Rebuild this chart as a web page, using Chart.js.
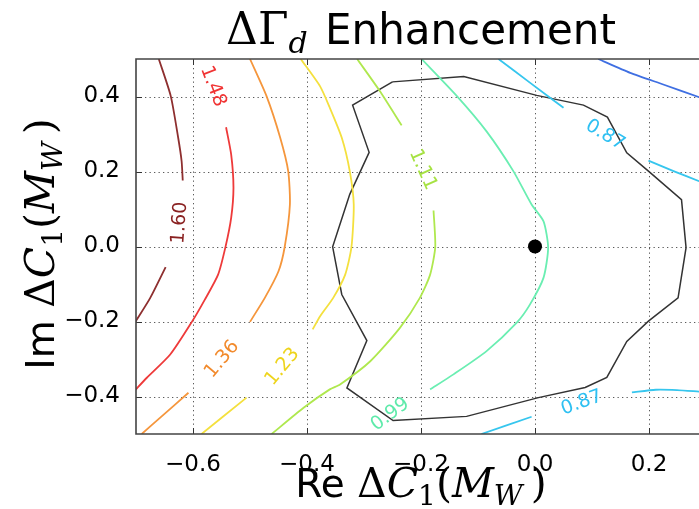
<!DOCTYPE html>
<html><head><meta charset="utf-8">
<script src="https://cdn.jsdelivr.net/npm/chart.js@4.4.1/dist/chart.umd.min.js"></script>
<style>html,body{margin:0;padding:0;background:#fff;overflow:hidden}#wrap{width:699px;height:509px;position:relative}</style>
</head><body><div id="wrap"><canvas id="c" width="699" height="509"></canvas></div>
<script>
// ---- data ----
const xTicks = [-0.6, -0.4, -0.2, 0.0, 0.2];
const xTickLabels = ['−0.6', '−0.4', '−0.2', '0.0', '0.2'];
const yTicks = [-0.4, -0.2, 0.0, 0.2, 0.4];
const yTickLabels = ['−0.4', '−0.2', '0.0', '0.2', '0.4'];
const levels = ['0.75', '0.87', '0.87', '0.99', '1.11', '1.23', '1.36', '1.48', '1.60'];
// contour polylines [Re, Im]; null marks the gap left for an inline label
const c075 = [[0.111,0.5],[0.167,0.463],[0.225,0.432],[0.288,0.398]];
const c087top = [[-0.064,0.5],[-0.009,0.437],[0.050,0.370],null,[0.199,0.229],[0.243,0.201],[0.288,0.174]];
const c087bot = [[-0.094,-0.5],[-0.006,-0.454],null,[0.170,-0.389],[0.212,-0.382],[0.249,-0.383],[0.288,-0.387]];
const c099 = [[-0.199,0.5],[-0.137,0.401],[-0.085,0.307],[-0.038,0.201],[-0.006,0.112],[0.015,0.067],[0.023,-0.003],[0.015,-0.083],[-0.009,-0.155],[-0.032,-0.203],[-0.085,-0.279],[-0.143,-0.341],[-0.184,-0.381]];
const c111 = [[-0.312,0.5],[-0.272,0.414],[-0.234,0.323],null,[-0.178,0.096],[-0.175,-0.001],[-0.184,-0.075],[-0.202,-0.137],[-0.237,-0.217],[-0.289,-0.306],[-0.342,-0.368],[-0.360,-0.381],[-0.406,-0.430],[-0.462,-0.5]];
const c123 = [[-0.411,0.5],[-0.377,0.427],[-0.360,0.370],[-0.339,0.290],[-0.325,0.201],[-0.318,0.112],[-0.322,-0.001],[-0.333,-0.075],[-0.354,-0.137],[-0.377,-0.186],[-0.390,-0.221],null,[-0.506,-0.403],[-0.585,-0.5]];
const c136 = [[-0.5,0.5],[-0.471,0.401],[-0.447,0.290],[-0.433,0.201],[-0.430,0.112],[-0.439,0.0],[-0.450,-0.066],[-0.474,-0.137],[-0.500,-0.201],null,[-0.608,-0.390],[-0.658,-0.457],[-0.690,-0.5]];
const c148 = [[-0.542,0.318],[-0.533,0.245],[-0.529,0.157],[-0.533,0.077],[-0.543,-0.001],[-0.556,-0.075],[-0.579,-0.141],[-0.602,-0.201],[-0.640,-0.288],[-0.681,-0.350],[-0.702,-0.384]];
const c160 = [[-0.660,0.5],[-0.639,0.401],[-0.626,0.290],[-0.620,0.228],[-0.618,0.176],null,[-0.648,-0.055],[-0.675,-0.137],[-0.702,-0.203]];
// closed black contour
const region = [[-0.250,0.439],[-0.125,0.453],[0.003,0.403],[0.085,0.377],[0.127,0.345],[0.161,0.250],[0.199,0.201],[0.257,0.125],[0.265,-0.003],[0.251,-0.137],[0.199,-0.199],[0.161,-0.253],[0.126,-0.349],[0.088,-0.376],[0.006,-0.403],[-0.120,-0.453],[-0.249,-0.464],[-0.330,-0.377],[-0.295,-0.251],[-0.339,-0.128],[-0.355,-0.001],[-0.325,0.139],[-0.291,0.251],[-0.320,0.377],[-0.250,0.439]];
const smPoint = [[0.0, 0.0]];
// inline labels [Re, Im, text]
const labelPts = [[-0.623,0.063,'1.60'],[-0.565,0.427,'1.48'],[-0.549,-0.301,'1.36'],[-0.443,-0.321,'1.23'],[-0.197,0.205,'1.11'],[-0.254,-0.448,'0.99'],[0.123,0.297,'0.87'],[0.082,-0.417,'0.87']];
const labelAngles = [-86, 69, -50, -50, 66, -37, 31, -20];

// ---- styles ----
const levelColors = {'0.75':'#3f6fe2','0.87':'#36c6ee','0.99':'#6aeeb2','1.11':'#afe84e','1.23':'#f4e03e','1.36':'#f5963c','1.48':'#ee3a3a','1.60':'#8e2f2f'};
const labelColors = {'0.87':'#2ec0f2','0.99':'#5eeaaa','1.11':'#a6e242','1.23':'#eed41c','1.36':'#f28a2c','1.48':'#f03434','1.60':'#8a2222'};
const lines = [c075, c087top, c087bot, c099, c111, c123, c136, c148, c160];

function pieces(arr) {
  const out = []; let cur = [];
  arr.forEach(p => { if (p === null) { if (cur.length) out.push(cur); cur = []; } else cur.push({x: p[0], y: p[1]}); });
  if (cur.length) out.push(cur);
  return out;
}
const datasets = [];
lines.forEach((arr, i) => {
  pieces(arr).forEach(pc => datasets.push({data: pc, showLine: true, borderColor: levelColors[levels[i]], borderWidth: 1.8, pointRadius: 0, tension: 0.22, fill: false}));
});
datasets.push({data: region.map(p => ({x: p[0], y: p[1]})), showLine: true, borderColor: '#333', borderWidth: 1.5, pointRadius: 0, tension: 0, fill: false});
datasets.push({data: smPoint.map(p => ({x: p[0], y: p[1]})), showLine: false, pointRadius: 7, pointBackgroundColor: '#000', pointBorderWidth: 0, borderColor: '#000'});

function drawRich(ctx, segs, x, y, rot) {
  ctx.save(); ctx.translate(x, y); ctx.rotate(rot || 0);
  let w = 0;
  segs.forEach(s => { ctx.font = s.f; s.w = ctx.measureText(s.t).width + (s.sp || 0); w += s.w; });
  let cx = -w / 2;
  ctx.textAlign = 'left'; ctx.textBaseline = 'alphabetic'; ctx.fillStyle = '#000';
  segs.forEach(s => { ctx.font = s.f; ctx.fillText(s.t, cx, s.dy || 0); cx += s.w; });
  ctx.restore();
}

const deco = {
  id: 'deco',
  beforeDatasetsDraw(chart) {
    const {ctx, chartArea: a, scales: {x, y}} = chart;
    ctx.save();
    ctx.beginPath(); ctx.rect(a.left, a.top, a.right - a.left, a.bottom - a.top); ctx.clip();
    ctx.strokeStyle = '#5a5a5a'; ctx.lineWidth = 1; ctx.setLineDash([1.3, 3.2]);
    xTicks.forEach(v => { const px = Math.round(x.getPixelForValue(v)) + 0.5; ctx.beginPath(); ctx.moveTo(px, a.top); ctx.lineTo(px, a.bottom); ctx.stroke(); });
    yTicks.forEach(v => { const py = Math.round(y.getPixelForValue(v)) + 0.5; ctx.beginPath(); ctx.moveTo(a.left, py); ctx.lineTo(a.right, py); ctx.stroke(); });
    ctx.restore();
  },
  afterDatasetsDraw(chart) {
    const {ctx, chartArea: a, scales: {x, y}} = chart;
    ctx.save();
    // inline contour labels
    ctx.font = '19px "DejaVu Sans"'; ctx.textAlign = 'center'; ctx.textBaseline = 'middle';
    labelPts.forEach((l, i) => {
      ctx.save();
      ctx.translate(x.getPixelForValue(l[0]), y.getPixelForValue(l[1]));
      ctx.rotate(labelAngles[i] * Math.PI / 180);
      ctx.fillStyle = labelColors[l[2]];
      ctx.fillText(l[2], 0, 0);
      ctx.restore();
    });
    // ticks (inward)
    ctx.strokeStyle = '#333'; ctx.lineWidth = 1;
    xTicks.forEach(v => { const px = Math.round(x.getPixelForValue(v)) + 0.5;
      ctx.beginPath(); ctx.moveTo(px, a.bottom); ctx.lineTo(px, a.bottom - 6); ctx.moveTo(px, a.top); ctx.lineTo(px, a.top + 6); ctx.stroke(); });
    yTicks.forEach(v => { const py = Math.round(y.getPixelForValue(v)) + 0.5;
      ctx.beginPath(); ctx.moveTo(a.left, py); ctx.lineTo(a.left + 6, py); ctx.stroke(); });
    // frame
    ctx.strokeStyle = '#444'; ctx.lineWidth = 1.6;
    ctx.beginPath(); ctx.moveTo(a.right + 2, a.top); ctx.lineTo(a.left, a.top); ctx.lineTo(a.left, a.bottom); ctx.lineTo(a.right + 2, a.bottom); ctx.stroke();
    ctx.restore();
    // titles
    const F = 'DejaVu Serif', S = 'DejaVu Sans';
    drawRich(ctx, [
      {t: 'ΔΓ', f: '44px "' + F + '"'},
      {t: 'd', f: 'italic 30px "' + F + '"', dy: 9, sp: 4},
      {t: ' Enhancement', f: '42px "' + S + '"'}
    ], 421, 44, 0);
    const lab = (pre) => [
      {t: pre + ' ', f: '39px "' + S + '"'},
      {t: 'Δ', f: '41px "' + F + '"'},
      {t: 'C', f: 'italic 41px "' + F + '"'},
      {t: '1', f: '28px "' + F + '"', dy: 8},
      {t: '(', f: '41px "' + F + '"'},
      {t: 'M', f: 'italic 41px "' + F + '"'},
      {t: 'W', f: 'italic 28px "' + F + '"', dy: 8, sp: 8},
      {t: ')', f: '41px "' + F + '"'}
    ];
    drawRich(ctx, lab('Re'), 421, 497, 0);
    drawRich(ctx, lab('Im'), 54, 244, -Math.PI / 2);
  }
};

Chart.defaults.font.family = 'DejaVu Sans';
new Chart(document.getElementById('c'), {
  type: 'scatter',
  data: {datasets},
  options: {
    responsive: false, animation: false, devicePixelRatio: 1,
    layout: {autoPadding: false, padding: {top: 59, left: 0, right: 0, bottom: 0}},
    plugins: {legend: {display: false}, tooltip: {enabled: false}, title: {display: false}},
    scales: {
      x: {type: 'linear', min: -0.7, max: 0.2877,
        afterFit: s => { s.height = 75; },
        afterBuildTicks: s => { s.ticks = xTicks.map(v => ({value: v})); },
        grid: {display: false}, border: {display: false},
        ticks: {autoSkip: false, maxRotation: 0, padding: 9, color: '#000', font: {size: 23},
          callback: v => xTickLabels[xTicks.findIndex(t => Math.abs(t - v) < 1e-9)]}},
      y: {type: 'linear', min: -0.5, max: 0.5,
        afterFit: s => { s.width = 136; },
        afterBuildTicks: s => { s.ticks = yTicks.map(v => ({value: v})); },
        grid: {display: false}, border: {display: false},
        ticks: {autoSkip: false, padding: 8, color: '#000', font: {size: 23},
          callback: v => yTickLabels[yTicks.findIndex(t => Math.abs(t - v) < 1e-9)]}}
    }
  },
  plugins: [deco]
});
</script></body></html>
